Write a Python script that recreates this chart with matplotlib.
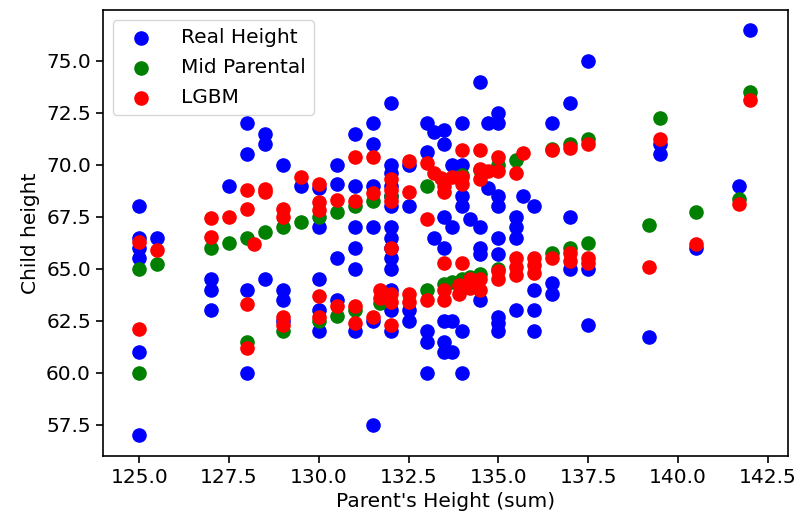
import matplotlib
matplotlib.use("Agg")
import matplotlib.pyplot as plt

# parent height sum -> child heights, one list per x column
real_x = [125, 125.5, 127, 127.5, 128, 128.5, 129, 129.5, 130, 130.5, 131, 131.5,
          132, 132.5, 133, 133.2, 133.5, 133.7, 134, 134.2, 134.5, 134.7, 135,
          135.5, 135.7, 136, 136.5, 137, 137.5, 139.2, 139.5, 140.5, 141.7, 142]
real_y = [[68.0, 66.5, 66.0, 65.5, 61.0, 57.0], [66.5], [64.5, 64.0, 63.0], [69.0],
          [72.0, 70.5, 64.0, 60.0], [71.5, 71.0, 64.5], [70.0, 64.0, 63.5, 62.5], [69.0],
          [68.9, 67.0, 64.5, 63.0, 62.0], [70.0, 69.1, 65.5, 63.5],
          [71.5, 69.0, 67.0, 66.0, 65.0, 62.0], [72.0, 71.0, 69.0, 67.0, 62.5, 57.5],
          [73.0, 70.0, 69.6, 69.0, 68.5, 68.0, 67.0, 66.5, 66.0, 65.5, 65.0, 64.0, 63.0, 62.0],
          [70.0, 68.0, 63.0, 62.5], [72.0, 70.6, 62.0, 61.5, 60.0], [71.6, 66.5],
          [71.7, 71.0, 67.5, 66.0, 62.5, 61.5, 61.0], [70.0, 67.0, 62.5, 61.0],
          [72.0, 70.0, 68.5, 68.0, 62.0, 60.0], [67.4], [74.0, 67.0, 66.0, 65.7, 63.5],
          [72.0, 68.9], [72.5, 72.0, 68.5, 68.0, 66.5, 65.7, 62.7, 62.4, 62.0],
          [67.5, 67.0, 66.5, 63.0], [68.5], [68.0, 64.0, 63.0, 62.0], [72.0, 64.3, 63.8],
          [73.0, 67.5, 65.0], [75.0, 65.0, 62.3], [61.7], [71.0, 70.5], [66.0], [69.0], [76.5]]

mid_x = [125, 125.5, 127, 127.5, 128, 128.5, 129, 129.5, 130, 130.5, 131, 131.5, 131.7,
         132, 133, 133.5, 133.7, 134, 134.2, 134.5, 135, 135.5, 136.5, 137, 137.5,
         139.2, 139.5, 140.5, 141.7, 142]
mid_y = [[65.0, 60.0], [65.25], [66.0], [66.25], [66.5, 61.5], [66.75], [67.0, 62.0], [67.25],
         [67.5, 62.5], [67.75, 62.75], [68.0, 63.0], [68.25], [63.35], [68.5], [69.0, 64.0],
         [69.25, 64.25], [64.35], [69.5, 64.5], [64.6], [69.75, 64.75], [70.0, 65.0], [70.25],
         [70.75, 65.75], [71.0, 66.0], [71.25, 66.25], [67.1], [72.25], [67.75], [68.35], [73.5]]

lgbm_x = [125, 125.5, 127, 127.5, 128, 128.2, 128.5, 129, 129.5, 130, 130.5, 131, 131.5,
          131.7, 132, 132.5, 133, 133.2, 133.4, 133.5, 133.7, 133.9, 134, 134.2, 134.5,
          134.7, 135, 135.5, 135.7, 136, 136.5, 137, 137.5, 139.2, 139.5, 140.5, 141.7, 142]
lgbm_y = [[66.3, 62.1], [65.9], [67.45, 66.55], [67.5], [68.8, 67.9, 63.3, 61.2], [66.2],
          [68.85, 68.7], [67.9, 67.5, 62.7, 62.3], [69.4], [69.1, 68.2, 67.85, 63.7, 62.7],
          [68.3, 63.2], [70.4, 68.25, 63.2, 62.4], [70.4, 68.65, 62.7], [64.0, 63.6],
          [69.3, 68.8, 68.25, 66.0, 63.8, 63.4, 62.3], [70.2, 68.7, 63.8, 63.4],
          [70.1, 67.4, 63.5], [69.6], [69.35], [69.0, 68.7, 65.3, 64.0, 63.5], [69.4],
          [64.2, 63.8], [70.7, 69.4, 69.1, 65.3], [64.5, 64.1], [70.7, 69.8, 69.3, 64.5, 64.0],
          [69.7], [70.4, 69.7, 64.9, 64.5], [69.6, 65.5, 65.1, 64.7], [70.55],
          [65.5, 65.2, 64.8], [70.7, 65.5], [70.8, 65.75, 65.4], [71.0, 65.5, 65.3],
          [65.1], [71.25], [66.2], [68.1], [73.1]]


def expand(xs, ys):
    px, py = [], []
    for x, col in zip(xs, ys):
        for y in col:
            px.append(x)
            py.append(y)
    return px, py


fs = 14.5
plt.rcParams["font.family"] = "DejaVu Sans"
fig = plt.figure(figsize=(7.98, 5.20), dpi=100)
ax = fig.add_axes([0.1287, 0.1231, 0.8584, 0.8577])

size = 90
x, y = expand(real_x, real_y)
ax.scatter(x, y, s=size, color="blue", label="Real Height")
x, y = expand(mid_x, mid_y)
ax.scatter(x, y, s=size, color="green", label="Mid Parental")
x, y = expand(lgbm_x, lgbm_y)
ax.scatter(x, y, s=size, color="red", label="LGBM")

ax.set_xlim(123.98, 143.06)
ax.set_ylim(56.0, 77.45)
ax.set_xticks([125.0, 127.5, 130.0, 132.5, 135.0, 137.5, 140.0, 142.5])
ax.set_yticks([57.5, 60.0, 62.5, 65.0, 67.5, 70.0, 72.5, 75.0])
ax.tick_params(labelsize=fs, width=1.2, length=5)
for sp in ax.spines.values():
    sp.set_linewidth(1.2)

ax.set_xlabel("Parent's Height (sum)", fontsize=fs)
ax.set_ylabel("Child height", fontsize=fs)
ax.legend(loc="upper left", fontsize=fs, labelspacing=0.55, handletextpad=1.0)

fig.savefig("out.png", dpi=100)
